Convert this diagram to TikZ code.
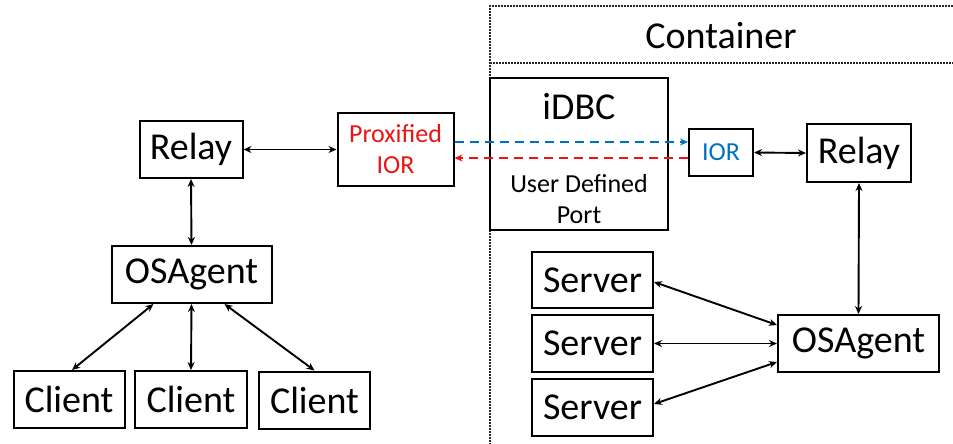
\documentclass[tikz,border=0pt]{standalone}
\usepackage{fontspec}
\setmainfont{Carlito}
\usetikzlibrary{arrows.meta}
\definecolor{offred}{RGB}{235,20,20}
\definecolor{offblue}{RGB}{0,112,192}
\tikzset{
  box/.style={draw=black, line width=2pt, inner sep=0pt, align=center, font=\fontsize{38}{40}\selectfont},
  small/.style={font=\fontsize{26}{31}\selectfont, align=center, inner sep=0pt},
  conn/.style={line width=1.9pt, {Stealth[length=8pt,width=7pt]}-{Stealth[length=8pt,width=7pt]}},
  dash1/.style={line width=2pt, dash pattern=on 9pt off 6pt, -{Stealth[length=8pt,width=7pt]}},
  dotline/.style={line width=1.8pt, dash pattern=on 1.6pt off 1.4pt, black!85}
}
\begin{document}
\begin{tikzpicture}[x=1pt,y=-1pt]
\useasboundingbox (0,0) rectangle (953,444);
% container dotted lines
\coordinate (ctl) at (490,6);
\coordinate (ctr) at (953,6);
\coordinate (cml) at (490,63);
\coordinate (cmr) at (953,63);
\coordinate (cbl) at (490,444);
\draw[dotline] (ctr) -- (ctl) -- (cbl);
\draw[dotline] (cml) -- (cmr);
\node[font=\fontsize{38}{40}\selectfont] (ctitle) at (721,36) {Container};

% left side
\node[box, minimum width=103pt, minimum height=57pt] (relayL) at (191,149.5) {Relay};
\node[box, minimum width=116pt, minimum height=73pt] (prox) at (395.5,149.5) {};
\node[small, text=offred] (proxtxt) at (395.5,149.5) {Proxified\\IOR};
\node[box, minimum width=160pt, minimum height=57pt] (osaL) at (191.5,274.5) {OSAgent};
\node[box, minimum width=111pt, minimum height=57pt] (c1) at (69,399.5) {Client};
\node[box, minimum width=112pt, minimum height=57pt] (c2) at (191,399.5) {Client};
\node[box, minimum width=111pt, minimum height=57pt] (c3) at (314.5,400) {Client};

% iDBC
\node[box, minimum width=178pt, minimum height=152pt] (idbc) at (579,154) {};
\node[font=\fontsize{38}{40}\selectfont, inner sep=0pt] (idbct) at (579,107) {iDBC};
\node[small] (udp) at (579,199) {User Defined\\Port};

% right side
\node[box, minimum width=64pt, minimum height=47pt] (ior) at (721,152.5) {};
\node[small, text=offblue] (iortxt) at (721,152.5) {IOR};
\node[box, minimum width=104pt, minimum height=58pt] (relayR) at (859,153) {Relay};
\node[box, minimum width=161pt, minimum height=57pt] (osaR) at (858.5,343.5) {OSAgent};
\node[box, minimum width=121pt, minimum height=56pt] (s1) at (592.5,280) {Server};
\node[box, minimum width=121pt, minimum height=57pt] (s2) at (592.5,343.5) {Server};
\node[box, minimum width=121pt, minimum height=57pt] (s3) at (592.5,407.5) {Server};

% connectors
\draw[conn] (relayL.east) -- (prox.west);
\draw[conn] (relayL.south) -- (osaL.north);
\draw[conn] ([xshift=-38pt]osaL.south) -- ([xshift=3pt]c1.north);
\draw[conn] (osaL.south) -- (c2.north);
\draw[conn] ([xshift=33pt]osaL.south) -- (c3.north);
\draw[dash1, offblue] ([yshift=7.5pt]prox.east) -- ([yshift=7.5pt]prox.east -| ior.west);
\draw[dash1, offred] ([yshift=-5.5pt]ior.west) -- ([yshift=-5.5pt]ior.west -| prox.east);
\draw[conn] (ior.east) -- (relayR.west);
\draw[conn] (relayR.south) -- (osaR.north);
\draw[conn] ([yshift=-2pt]s1.east) -- ([yshift=18.5pt]osaR.west);
\draw[conn] (s2.east) -- (osaR.west);
\draw[conn] ([yshift=3.5pt]s3.east) -- ([yshift=-18.5pt]osaR.west);
\end{tikzpicture}
\end{document}
